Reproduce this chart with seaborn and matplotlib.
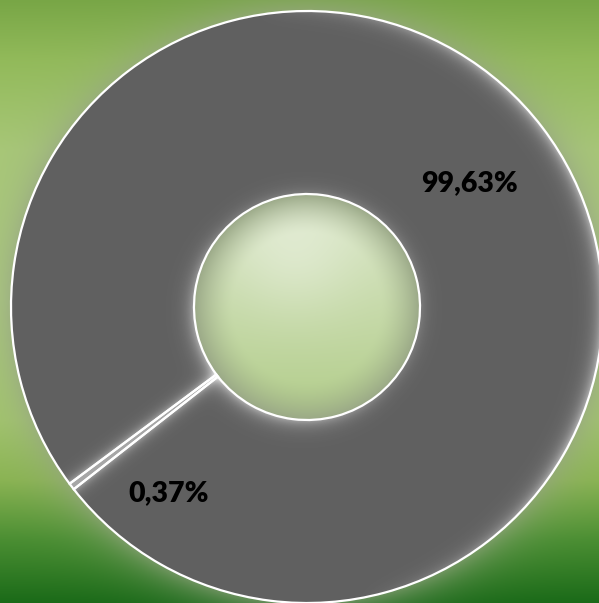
import numpy as np
import matplotlib
matplotlib.use("Agg")
import matplotlib.pyplot as plt
import seaborn as sns
from matplotlib.colors import to_rgb

# Share of each category (percent)
labels = ["0,37%", "99,63%"]
shares = [0.37, 99.63]
ring_color = "#606060"

sns.set_style("white")
plt.rcParams["font.family"] = ["Lato", "DejaVu Sans"]

W, H = 599, 603
fig = plt.figure(figsize=(W / 100, H / 100), dpi=100)
ax = fig.add_axes([0, 0, 1, 1])

# donut geometry in pixel units
cx, cy_pix = 307, 307
cy = H - cy_pix
R, r_in = 296, 113
start = 218

px = np.arange(W) + 0.5
py = np.arange(H) + 0.5
X, Y = np.meshgrid(px, py)
dx = X - cx
dy = cy_pix - Y
rr = np.hypot(dx, dy)
th = np.degrees(np.arctan2(dy, dx))
ext = (0, W, 0, H)

# background: vertical green gradient with a soft grey shadow around the ring
stops_y = [0, 60, 150, 300, 420, 480, 540, 603]
stops_c = ["#78a646", "#92ba5a", "#a8c877", "#adcc7e", "#a2c56c",
           "#8ab452", "#4a8e32", "#1a6a18"]
cols = np.array([to_rgb(c) for c in stops_c])
bg = np.stack([np.interp(Y, stops_y, cols[:, k]) for k in range(3)], axis=-1)
halo = 0.65 * np.exp(-np.clip(rr - R, 0, None) / 18.0)
halo_col = np.array(to_rgb("#97a585"))
bg = bg * (1 - halo[..., None]) + halo_col * halo[..., None]
ax.imshow(bg, extent=ext, origin="upper", zorder=0, interpolation="nearest")

# ring fill
wedges, _ = ax.pie(shares, center=(cx, cy), radius=R, startangle=start,
                   counterclock=False, colors=[ring_color] * len(shares),
                   wedgeprops=dict(width=R - r_in, edgecolor="none",
                                   linewidth=0, zorder=1))

# light rim on the outer edge, glow around the hole and along the thin slice
ring = ((rr <= R) & (rr >= r_in)).astype(float)
ang = np.clip(np.cos(np.radians(th - 10)) * 1.3, 0, 1)
rim = 0.55 * np.exp(-(R - rr) / 7.0) * ang
glow_ang = 0.35 + 0.65 * np.clip(np.cos(np.radians(th - 225)), 0, 1)
glow = 0.55 * np.exp(-(rr - r_in) / 7.0) * glow_ang

small = wedges[0]
t_lo, t_hi = small.theta1, small.theta2
t_mid = np.radians((t_lo + t_hi) / 2)
half_w = rr * np.radians((t_hi - t_lo) / 2)
perp = np.abs(-dx * np.sin(t_mid) + dy * np.cos(t_mid))
along = dx * np.cos(t_mid) + dy * np.sin(t_mid)
dist = np.clip(perp - half_w, 0, None)
slice_glow = np.where(along > 0, 0.45 * np.exp(-dist / 5.0), 0.0)

overlay = np.zeros((H, W, 4))
overlay[..., :3] = 1.0
overlay[..., 3] = np.clip(rim + glow + slice_glow, 0, 0.85) * ring
ax.imshow(overlay, extent=ext, origin="upper", zorder=2, interpolation="nearest")

# hole: pale green with an inner vignette
t = np.clip((Y - (cy_pix - r_in)) / (2 * r_in), 0, 1)[..., None]
top_c = np.array(to_rgb("#dae6c8"))
bot_c = np.array(to_rgb("#b2cd8a"))
base = top_c * (1 - t) + bot_c * t
hl = np.exp(-((X - 295) ** 2 + (Y - 250) ** 2) / (2 * 45 ** 2))[..., None]
base = base + (1 - base) * 0.3 * hl
edge = (np.clip((rr / r_in - 0.65) / 0.35, 0, 1) ** 1.5)[..., None]
edge_col = np.array(to_rgb("#9aa887"))
hole_rgb = base * (1 - edge) + edge_col * edge
hole = np.zeros((H, W, 4))
hole[..., :3] = hole_rgb
hole[..., 3] = (rr <= r_in).astype(float)
ax.imshow(hole, extent=ext, origin="upper", zorder=3, interpolation="nearest")

# white outlines of the slices
ax.pie(shares, center=(cx, cy), radius=R, startangle=start, counterclock=False,
       colors=["none"] * len(shares),
       wedgeprops=dict(width=R - r_in, edgecolor="white", linewidth=1.6,
                       zorder=4))

# value labels
r_mid = (R + r_in) / 2
for w, lab in zip(wedges, labels):
    mid = (w.theta1 + w.theta2) / 2
    if w.theta2 - w.theta1 < 10:
        mid += 16
        rad = 232
    else:
        rad = r_mid
    x = cx + rad * np.cos(np.radians(mid))
    y = cy + rad * np.sin(np.radians(mid))
    ax.text(x, y, lab, ha="center", va="center", fontsize=20.5,
            fontweight="heavy", color="black", zorder=5)

ax.set_xlim(0, W)
ax.set_ylim(0, H)
ax.set_aspect("equal")
ax.axis("off")
fig.savefig("out.png", dpi=100)
